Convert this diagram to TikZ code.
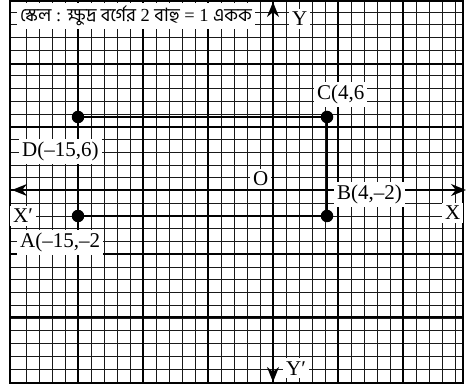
\documentclass[tikz,border=0pt]{standalone}
\usepackage{fontspec}
\setmainfont{Liberation Serif}
\newfontfamily\bnfont[Script=Bengali]{Hind Siliguri}
\usetikzlibrary{arrows.meta}
\begin{document}
\begin{tikzpicture}[x=1pt,y=-1pt,
  minor/.style={line width=1.1pt, black!90},
  major/.style={line width=2pt, black},
  lbl/.style={fill=white, inner sep=3pt, anchor=base west, font=\fontsize{21}{24}\selectfont},
  ttl/.style={fill=white, inner sep=3pt, anchor=base west, font=\fontsize{18.4}{20}\selectfont},
  edge/.style={line width=2.2pt},
  axis/.style={line width=2pt, {Stealth[length=15pt,width=12pt]}-{Stealth[length=15pt,width=12pt]}},
  dot/.style={circle, fill=black, inner sep=0pt, minimum size=12.5pt}]
\useasboundingbox (0,0) rectangle (466,387);
% grid
\foreach \k in {-19,...,14} \draw[minor] ({273.5+13*\k},1) -- ({273.5+13*\k},383);
\foreach \k in {-14,...,14} \draw[minor] (10,{round(190+12.75*\k)+0.5}) -- (463,{round(190+12.75*\k)+0.5});
\foreach \xx in {78,143,208,273,338,403} \draw[major] (\xx,1) -- (\xx,383);
\foreach \yy in {64,127,190,254,317} \draw[major] (10,\yy) -- (463,\yy);
\draw[major] (10,1) rectangle (463,383);
% axes
\coordinate (xl) at (12,190);
\coordinate (xr) at (466,190);
\coordinate (yt) at (273,2);
\coordinate (yb) at (273,382);
\draw[axis] (xl) -- (xr);
\draw[axis] (yb) -- (yt);
% points
\node[dot] (A) at (78,216) {};
\node[dot] (B) at (327,216) {};
\node[dot] (C) at (327,117) {};
\node[dot] (D) at (78,117) {};
\draw[edge] (D) -- (C) -- (B) -- (A) -- (D);
% labels
\node[ttl] (title) at (17,22) {{\bnfont স্কেল} : {\bnfont ক্ষুদ্র বর্গের} 2 {\bnfont বাহু} = 1 {\bnfont একক}};
\node[lbl] (ly) at (289,26) {Y};
\node[lbl] (ly2) at (283,375) {Y′};
\node[lbl] (lx) at (442,220) {X};
\node[lbl] (lx2) at (10,223) {X′};
\node[lbl] (lo) at (250,186) {O};
\node[lbl] (lb) at (334,200) {B(4,–2)};
\node[lbl] (lc) at (314,100) {C(4,6};
\node[lbl] (ld) at (19,157) {D(–15,6)};
\node[lbl] (la) at (17,248) {A(–15,–2};
\end{tikzpicture}
\end{document}
